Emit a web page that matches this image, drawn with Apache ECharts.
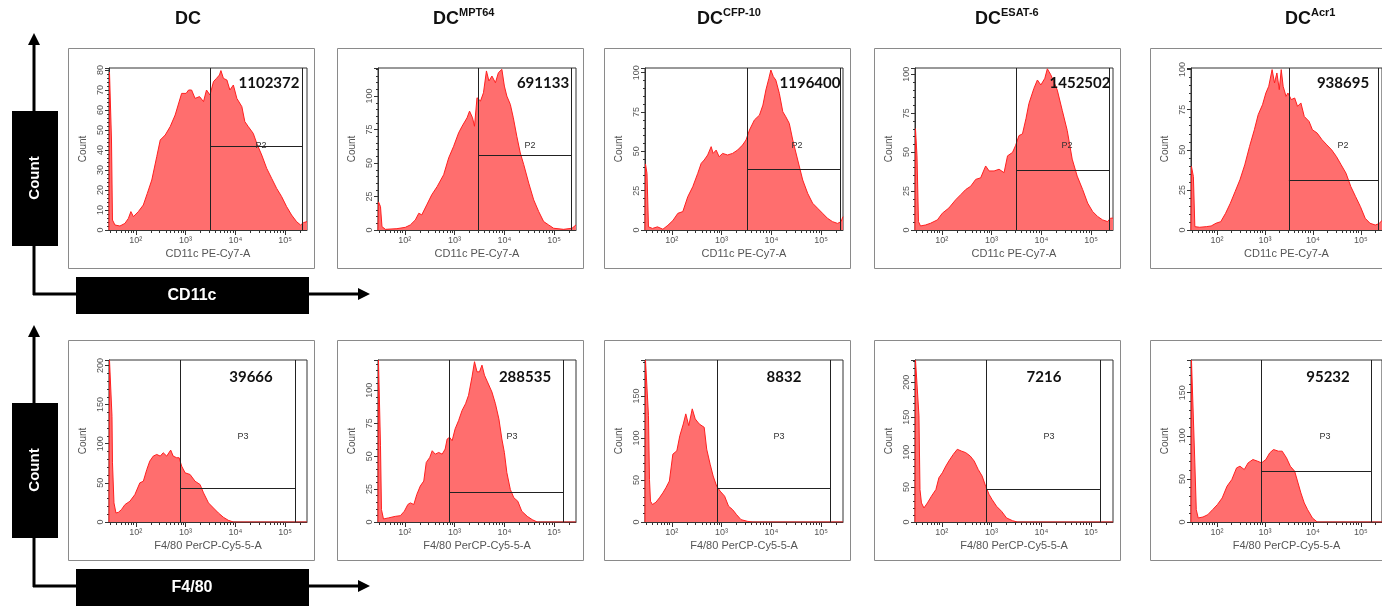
<!DOCTYPE html>
<html>
<head>
<meta charset="utf-8">
<script src="https://cdn.jsdelivr.net/npm/echarts@6.0.0/dist/echarts.min.js"></script>
<style>
html,body{margin:0;padding:0;background:#fff;}
#main{width:1382px;height:606px;}
</style>
</head>
<body>
<div id="main"></div>
<script>
// 抗原 (column titles, superscript part)
var antigens = ['', 'MPT64', 'CFP-10', 'ESAT-6', 'Acr1'];
var markers = ['CD11c', 'F4/80'];
var channelNames = ['CD11c PE-Cy7-A', 'F4/80 PerCP-Cy5-5-A'];
var gateNames = ['P2', 'P3'];
var decadeTicks = [2, 3, 4, 5];

// gated event counts, row 1 then row 2
var eventCounts = [1102372, 691133, 1196400, 1452502, 938695, 39666, 288535, 8832, 7216, 95232];

// histograms: [log10 fluorescence, count]
var cd11cDC = [[1.46,0],[1.47,79],[1.49,78],[1.51,45],[1.53,5],[1.58,2.5],[1.68,2],[1.78,3.3],[1.85,5.8],[1.90,9.2],[1.95,6.7],[2.05,9.2],[2.15,12.5],[2.23,18.3],[2.32,25],[2.42,36.7],[2.49,45],[2.59,47.5],[2.69,51.7],[2.79,57.5],[2.85,62.5],[2.92,68.3],[3.01,68.3],[3.06,70],[3.12,70],[3.19,65.8],[3.28,66.7],[3.36,64.2],[3.42,70],[3.49,67.5],[3.56,74.2],[3.62,75.8],[3.68,77.5],[3.71,79.7],[3.76,75.8],[3.83,75],[3.89,70],[3.96,72.5],[4.03,65.8],[4.13,61.7],[4.19,54.2],[4.26,51.7],[4.36,48.3],[4.43,43.3],[4.53,37.5],[4.63,30.8],[4.73,25.8],[4.83,20.8],[4.93,16.7],[5.03,11.7],[5.13,7.5],[5.23,4.2],[5.31,2.5],[5.37,3.7],[5.44,4.2]];
var cd11cMPT64 = [[1.46,0],[1.47,21],[1.51,17.5],[1.54,2.5],[1.61,0.5],[1.84,1],[2.01,2],[2.11,3.8],[2.21,7.5],[2.28,12.5],[2.34,11.3],[2.44,18.8],[2.54,26.3],[2.65,32.5],[2.78,41.3],[2.88,53.8],[2.98,62.5],[3.08,72.5],[3.15,77.5],[3.25,83.8],[3.30,88.8],[3.36,83.8],[3.40,77.5],[3.45,98.8],[3.52,96.3],[3.58,102.5],[3.64,118.8],[3.69,111.3],[3.75,115],[3.82,110],[3.88,117.5],[3.95,120],[4.00,107.5],[4.05,100],[4.12,93.8],[4.18,83.8],[4.25,70],[4.32,57.5],[4.39,48.8],[4.49,35],[4.59,22.5],[4.69,13.8],[4.79,6.3],[4.89,3.8],[4.99,1.3],[5.19,0.5],[5.36,1.3],[5.44,3.8]];
var cd11cCFP10 = [[1.46,0],[1.47,42],[1.50,36],[1.53,2],[1.61,1],[1.71,2],[1.82,0.5],[1.92,3],[2.02,6],[2.12,10.6],[2.22,11.7],[2.32,21.2],[2.42,27.5],[2.52,36],[2.59,42.4],[2.65,44.5],[2.72,47.7],[2.79,53],[2.83,48.7],[2.89,50.8],[2.95,46.6],[3.02,48.7],[3.12,47.7],[3.22,48.7],[3.32,50.8],[3.42,54],[3.49,57.2],[3.56,63.6],[3.66,70],[3.76,73],[3.83,79.4],[3.89,89],[3.95,96.4],[3.99,101.7],[4.04,97.5],[4.09,95.3],[4.16,86.9],[4.23,75.2],[4.29,72],[4.36,67.8],[4.43,57.2],[4.53,44.5],[4.63,31.8],[4.73,23.3],[4.83,17],[4.93,13.8],[5.03,10.6],[5.13,7.4],[5.23,5.3],[5.33,4.2],[5.40,5.3],[5.44,8.5]];
var cd11cESAT6 = [[1.46,0],[1.47,65],[1.50,47.6],[1.53,5.4],[1.57,2.6],[1.67,3.2],[1.77,4.3],[1.91,6.5],[2.01,10.8],[2.14,14.1],[2.28,19.5],[2.38,22.7],[2.48,26],[2.58,28.1],[2.68,32.5],[2.78,33.5],[2.88,41.1],[2.95,37.9],[3.05,37.9],[3.15,39],[3.25,36.8],[3.32,47.6],[3.42,49.8],[3.48,54.1],[3.55,60.6],[3.62,61.7],[3.69,71.4],[3.75,81.2],[3.85,90.9],[3.92,96.3],[3.99,93.1],[4.07,97.4],[4.12,103.5],[4.19,99.6],[4.25,95.2],[4.32,89.8],[4.42,76.8],[4.52,63.9],[4.62,45.5],[4.72,34.6],[4.83,26],[4.93,17.3],[5.03,11.9],[5.13,8.7],[5.23,6.5],[5.33,5.4],[5.39,7.6],[5.44,7.6]];
var cd11cAcr1 = [[1.46,0],[1.47,39.6],[1.51,33.3],[1.54,2.1],[1.64,1.7],[1.78,2.1],[1.88,2.5],[1.98,4.2],[2.08,5.2],[2.18,10.4],[2.28,16.7],[2.38,24],[2.48,31.3],[2.58,40.6],[2.68,52.1],[2.78,62.5],[2.86,71.9],[2.95,78.1],[3.02,85.4],[3.08,89.6],[3.15,100],[3.20,91.7],[3.25,97.9],[3.30,87.5],[3.34,100],[3.38,89.6],[3.44,83.3],[3.48,85.4],[3.55,81.3],[3.62,82.3],[3.68,77.1],[3.75,79.2],[3.82,70.8],[3.92,67.7],[3.99,62.5],[4.09,60.4],[4.19,56.3],[4.29,53.1],[4.39,50],[4.49,45.8],[4.59,40.6],[4.69,35.4],[4.79,27.1],[4.89,20.8],[4.99,14.6],[5.09,7.3],[5.19,4.2],[5.30,3.1],[5.38,4],[5.44,6]];
var f480DC = [[1.46,0],[1.47,207],[1.49,207],[1.52,135],[1.53,75.6],[1.56,24.4],[1.60,11.5],[1.65,12.4],[1.71,15.8],[1.78,22.2],[1.88,26.5],[1.98,35],[2.08,50],[2.15,52.1],[2.22,67.1],[2.28,77.8],[2.35,84.2],[2.42,86.3],[2.49,84.2],[2.55,88.5],[2.62,84.2],[2.70,91.9],[2.75,84.2],[2.82,82.1],[2.87,82.1],[2.92,71.4],[2.99,62.8],[3.09,60.7],[3.19,52.1],[3.29,47.9],[3.36,37.2],[3.46,24.4],[3.56,17.9],[3.66,11.5],[3.76,6],[3.86,2.1],[3.96,0],[5.44,0]];
var f480MPT64 = [[1.46,0],[1.47,123],[1.49,123],[1.51,57.9],[1.53,9.4],[1.57,2.3],[1.67,3.1],[1.81,4.3],[1.91,4.8],[1.99,8.2],[2.06,13.3],[2.11,14.5],[2.18,13.3],[2.24,20.9],[2.31,27.3],[2.38,31.1],[2.43,45.2],[2.50,49],[2.55,54.1],[2.61,51.5],[2.68,52.8],[2.75,51.5],[2.81,55.4],[2.85,63],[2.90,64.3],[2.95,61.7],[3.01,70.7],[3.08,77],[3.15,84.7],[3.22,89.8],[3.28,96.2],[3.35,110.2],[3.40,121.7],[3.45,114],[3.50,114],[3.55,119.1],[3.60,111.5],[3.66,106.4],[3.75,98.7],[3.82,89.8],[3.89,78.3],[3.95,63],[4.00,52.8],[4.05,37.5],[4.12,24.7],[4.19,18.4],[4.27,15.8],[4.35,8.2],[4.46,4.3],[4.56,1.8],[4.66,0],[5.44,0]];
var f480CFP10 = [[1.46,0],[1.47,193],[1.50,193],[1.53,126.8],[1.55,50.8],[1.57,24.8],[1.61,20.8],[1.68,23.6],[1.75,28.8],[1.82,34.8],[1.88,40.8],[1.95,48.8],[2.02,80.8],[2.10,84.8],[2.16,102.8],[2.23,116.8],[2.28,128.8],[2.34,114.8],[2.41,134.8],[2.47,122.8],[2.55,116.8],[2.65,112.8],[2.70,86.8],[2.77,68.8],[2.83,54.8],[2.90,42.8],[2.97,36.8],[3.06,30.8],[3.14,18.8],[3.22,14.8],[3.30,8.8],[3.39,2.8],[3.52,0.8],[3.62,0],[5.44,0]];
var f480ESAT6 = [[1.46,0],[1.47,232],[1.51,232],[1.54,152],[1.56,46.5],[1.59,27.3],[1.64,20.1],[1.71,27.3],[1.79,36.9],[1.88,46.5],[1.94,63.3],[2.01,70.5],[2.08,80.1],[2.14,87.3],[2.23,96.9],[2.31,104.1],[2.39,101.7],[2.48,99.3],[2.57,94.5],[2.65,87.3],[2.73,75.3],[2.81,65.7],[2.88,51.3],[2.95,39.3],[3.01,32.1],[3.10,22.5],[3.20,15.3],[3.30,5.8],[3.42,1.9],[3.52,0],[5.44,0]];
var f480Acr1 = [[1.46,0],[1.47,188],[1.51,188],[1.54,68.6],[1.57,14.3],[1.61,4.7],[1.71,5.8],[1.81,8.5],[1.91,14.3],[2.01,20.2],[2.11,27.9],[2.21,41.5],[2.31,49.2],[2.41,62.8],[2.48,64.7],[2.57,60.9],[2.65,68.6],[2.75,72.5],[2.85,70.5],[2.93,68.6],[3.02,72.5],[3.10,80.2],[3.18,84.1],[3.28,82.2],[3.36,82.2],[3.45,74.4],[3.53,64.7],[3.62,58.9],[3.69,45.3],[3.75,33.7],[3.82,22.1],[3.89,14.3],[3.99,4.7],[4.09,0],[5.44,0]];

// y axis range / label step per panel
var yMax = [81, 121, 103, 104, 101, 207, 123, 193, 232, 188];
var yStep = [10, 25, 25, 25, 25, 50, 25, 50, 50, 50];
// gate: lower bound, upper bound (log10), marker line level (count)
var gateLo = [3.50, 3.48, 3.51, 3.50, 3.50, 2.90, 2.90, 2.92, 2.90, 2.93];
var gateHi = [5.35, 5.34, 5.38, 5.37, 5.37, 5.20, 5.19, 5.19, 5.19, 5.21];
var gateLevel = [42, 56, 38.6, 38.5, 31.3, 43.6, 22.7, 40, 46.5, 59];

(function(){
    var hists = [cd11cDC, cd11cMPT64, cd11cCFP10, cd11cESAT6, cd11cAcr1, f480DC, f480MPT64, f480CFP10, f480ESAT6, f480Acr1];
    var FONT = 'Liberation Sans, Arial, sans-serif';
    var X_MIN = 1.46, X_MAX = 5.44;

    // layout
    var boxLeft = [68, 337, 604, 874, 1150];
    var rowTop = [48, 340];
    var titleX = [175, 433, 697, 975, 1285];
    var numDx = [160, 165, 165, 165, 152, 142, 147, 139, 129, 137];
    var numDy = [15, 17];
    var gateLabelPos = [[152, 78], [134, 77]];

    var sup = {2:'\u00b2', 3:'\u00b3', 4:'\u2074', 5:'\u2075'};
    // 对数次刻度
    var minorTicks = [];
    for (var n = 1; n <= 5; n++) {
        for (var k = 2; k <= 9; k++) {
            var v = Math.log10(k * Math.pow(10, n));
            if (v > X_MIN && v < X_MAX) minorTicks.push(v);
        }
    }

    var grids = [], xAxes = [], yAxes = [], series = [], graphics = [];

    for (var i = 0; i < 10; i++) {
        var r = Math.floor(i / 5), c = i % 5;
        var pl = boxLeft[c] + 41, pt = rowTop[r] + 20;
        grids.push({left: pl, top: pt, width: 198, height: 162, show: true, borderColor: '#333', borderWidth: 1, backgroundColor: 'transparent'});
        xAxes.push({
            gridIndex: i, type: 'value', min: X_MIN, max: X_MAX, position: 'bottom',
            axisLine: {show: true, onZero: false, lineStyle: {color: '#333', width: 1}},
            axisTick: {show: true, customValues: decadeTicks, length: 5, lineStyle: {color: '#333'}},
            axisLabel: {customValues: decadeTicks, fontSize: 9, color: '#555', margin: 6, fontFamily: FONT,
                formatter: function(v){ return '10' + sup[v]; }},
            splitLine: {show: false},
            name: channelNames[r], nameLocation: 'middle', nameGap: 18,
            nameTextStyle: {fontSize: 11, color: '#555', fontFamily: FONT}
        });
        xAxes.push({
            gridIndex: i, type: 'value', min: X_MIN, max: X_MAX, position: 'bottom',
            axisLine: {show: false},
            axisTick: {show: true, customValues: minorTicks, length: 3, lineStyle: {color: '#333'}},
            axisLabel: {show: false},
            splitLine: {show: false}
        });
        (function(step){
            yAxes.push({
                gridIndex: i, type: 'value', min: 0, max: yMax[i], interval: step,
                axisLine: {show: true, lineStyle: {color: '#333'}},
                axisTick: {show: true, length: 4, lineStyle: {color: '#333'}},
                minorTick: {show: true, splitNumber: 5, length: 2, lineStyle: {color: '#333'}},
                axisLabel: {rotate: 90, fontSize: 9, color: '#555', margin: 4, fontFamily: FONT,
                    formatter: function(v){ return v % step === 0 ? v : ''; }},
                splitLine: {show: false},
                name: 'Count', nameLocation: 'middle', nameGap: 21,
                nameTextStyle: {fontSize: 10, color: '#555', fontFamily: FONT}
            });
        })(yStep[i]);
        series.push({
            type: 'line', xAxisIndex: 2 * i, yAxisIndex: i,
            data: hists[i], symbol: 'none', animation: false,
            lineStyle: {color: '#ff2020', width: 1},
            areaStyle: {color: '#ff6e6e', opacity: 1},
            markLine: {
                silent: true, symbol: ['none', 'none'], animation: false,
                label: {show: false},
                lineStyle: {color: '#222', width: 1, type: 'solid'},
                data: [
                    {xAxis: gateLo[i]},
                    {xAxis: gateHi[i]},
                    [{coord: [gateLo[i], gateLevel[i]]}, {coord: [gateHi[i], gateLevel[i]]}]
                ]
            }
        });

        // outer frame
        graphics.push({type: 'rect', z: 0, shape: {x: boxLeft[c] + 0.5, y: rowTop[r] + 0.5, width: 246, height: 220},
            style: {fill: 'none', stroke: '#8a8a8a', lineWidth: 1}});
        graphics.push({type: 'text', z: 100, x: pl + numDx[i], y: pt + numDy[r],
            style: {text: String(eventCounts[i]), fontSize: 15, fontWeight: 'bold', fontFamily: 'Lato, sans-serif', fill: '#111', align: 'center', verticalAlign: 'middle'}});
        graphics.push({type: 'text', z: 100, x: pl + gateLabelPos[r][0], y: pt + gateLabelPos[r][1],
            style: {text: gateNames[r], fontSize: 9, fontFamily: FONT, fill: '#333', align: 'center', verticalAlign: 'middle'}});
    }

    // column titles
    for (var c2 = 0; c2 < 5; c2++) {
        graphics.push({type: 'text', x: titleX[c2], y: 19,
            style: {text: 'DC', fontSize: 18, fontWeight: 'bold', fontFamily: FONT, fill: '#111', align: 'left', verticalAlign: 'middle'}});
        if (antigens[c2]) {
            graphics.push({type: 'text', x: titleX[c2] + 26, y: 13,
                style: {text: antigens[c2], fontSize: 11, fontWeight: 'bold', fontFamily: FONT, fill: '#111', align: 'left', verticalAlign: 'middle'}});
        }
    }

    // 左侧坐标箭头
    for (var r2 = 0; r2 < 2; r2++) {
        var dy = r2 * 292;
        graphics.push({type: 'line', shape: {x1: 34, y1: 42 + dy, x2: 34, y2: 295 + dy}, style: {stroke: '#000', lineWidth: 3}});
        graphics.push({type: 'polygon', shape: {points: [[28, 45 + dy], [40, 45 + dy], [34, 33 + dy]]}, style: {fill: '#000'}});
        graphics.push({type: 'line', shape: {x1: 33, y1: 294 + dy, x2: 360, y2: 294 + dy}, style: {stroke: '#000', lineWidth: 3}});
        graphics.push({type: 'polygon', shape: {points: [[358, 288 + dy], [358, 300 + dy], [370, 294 + dy]]}, style: {fill: '#000'}});
        graphics.push({type: 'rect', shape: {x: 12, y: 111 + dy, width: 46, height: 135}, style: {fill: '#000'}});
        graphics.push({type: 'text', x: 35, y: 178 + dy, rotation: Math.PI / 2,
            style: {text: 'Count', fontSize: 15, fontWeight: 'bold', fontFamily: FONT, fill: '#fff', align: 'center', verticalAlign: 'middle'}});
        graphics.push({type: 'rect', shape: {x: 76, y: 277 + dy, width: 233, height: 37}, style: {fill: '#000'}});
        graphics.push({type: 'text', x: 192, y: 296 + dy,
            style: {text: markers[r2], fontSize: 16, fontWeight: 'bold', fontFamily: FONT, fill: '#fff', align: 'center', verticalAlign: 'middle'}});
    }

    var myChart = echarts.init(document.getElementById('main'));
    myChart.setOption({
        animation: false,
        grid: grids,
        xAxis: xAxes,
        yAxis: yAxes,
        series: series,
        graphic: graphics
    });
})();
</script>
</body>
</html>
